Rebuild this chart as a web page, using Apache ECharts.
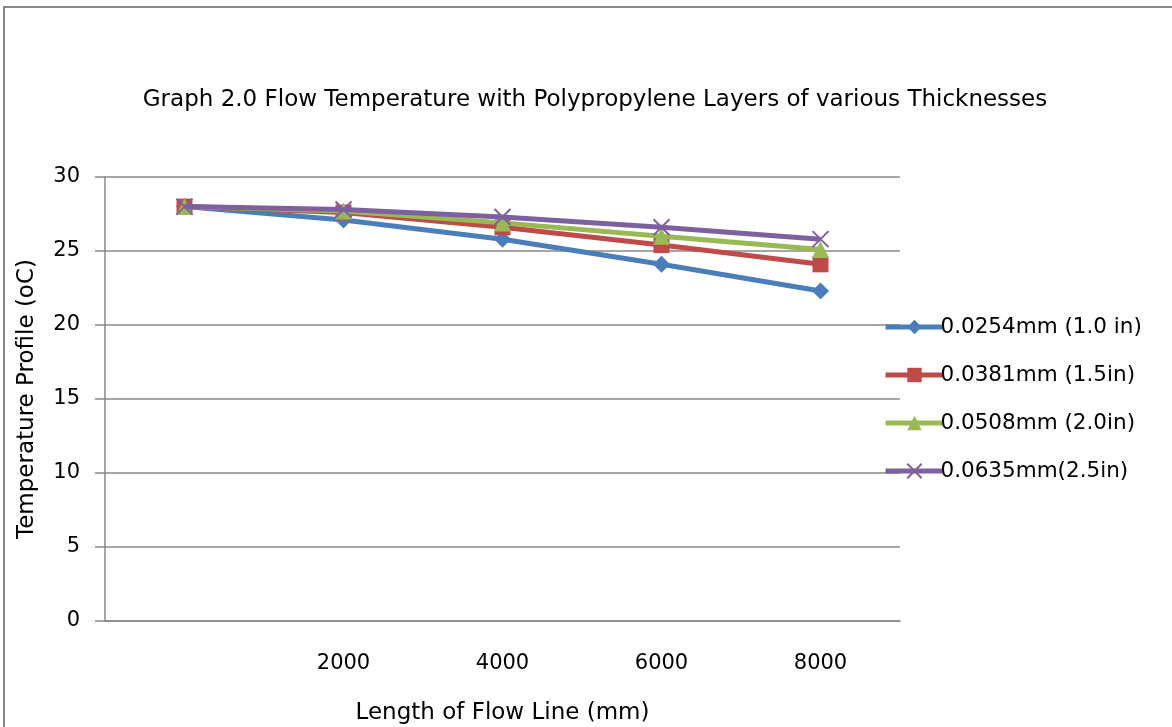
<!DOCTYPE html>
<html>
<head>
<meta charset="utf-8">
<script src="https://cdn.jsdelivr.net/npm/echarts@6/dist/echarts.min.js"></script>
<style>
  html, body { margin: 0; padding: 0; background: #fff; }
  #chart { width: 1172px; height: 727px; }
</style>
</head>
<body>
<div id="chart"></div>
<script>
// x categories (first one has no label in the picture)
var lengths = ['', '2000', '4000', '6000', '8000'];
var yTicks = [0, 5, 10, 15, 20, 25, 30];

var t0254 = [28.0, 27.1, 25.8, 24.1, 22.3];
var t0381 = [28.0, 27.6, 26.6, 25.4, 24.1];
var t0508 = [28.0, 27.7, 26.9, 26.0, 25.1];
var t0635 = [28.0, 27.8, 27.3, 26.6, 25.8];

var names = ['0.0254mm (1.0 in)', '0.0381mm (1.5in)', '0.0508mm (2.0in)', '0.0635mm(2.5in)'];
var colors = ['#4a7ebb', '#be4b48', '#98b954', '#7d60a0'];
var symbols = ['diamond', 'rect', 'triangle', 'path://M0,0 L10,10 M10,0 L0,10'];

var font = '"DejaVu Sans", sans-serif';
var chart = echarts.init(document.getElementById('chart'));

function makeSeries(i, data) {
  var isX = i === 3;
  return {
    name: names[i],
    type: 'line',
    data: data,
    symbol: symbols[i],
    symbolSize: isX ? 16 : (i === 1 ? 16 : 17),
    showAllSymbol: true,
    lineStyle: { color: colors[i], width: 5 },
    itemStyle: isX
      ? { color: 'none', borderColor: colors[i], borderWidth: 2 }
      : { color: colors[i], borderColor: colors[i], borderWidth: 0 },
    emphasis: { disabled: true },
    z: 2 + i
  };
}

chart.setOption({
  animation: false,
  backgroundColor: '#fff',
  textStyle: { fontFamily: font },
  title: {
    text: 'Graph 2.0 Flow Temperature with Polypropylene Layers of various Thicknesses',
    left: 590, top: 84, textAlign: 'center',
    textStyle: { fontFamily: font, fontSize: 23, fontWeight: 'normal', color: '#000' }
  },
  legend: {
    orient: 'vertical',
    left: 878, top: 311,
    itemWidth: 58, itemHeight: 18, itemGap: 26,
    lineStyle: { width: 5 },
    textStyle: { fontFamily: font, fontSize: 21.5, color: '#000', padding: [0, 0, 0, -8] },
    data: names
  },
  grid: { left: 105, right: 272, top: 177, bottom: 106, outerBoundsMode: 'none', containLabel: false },
  xAxis: {
    type: 'category',
    data: lengths,
    boundaryGap: true,
    name: 'Length of Flow Line (mm)',
    nameLocation: 'middle',
    nameGap: 81,
    nameTextStyle: { fontFamily: font, fontSize: 23, color: '#000' },
    axisLine: { lineStyle: { color: '#888', width: 1.5 } },
    axisTick: { show: false },
    axisLabel: { fontFamily: font, fontSize: 21, color: '#000', margin: 32 }
  },
  yAxis: {
    type: 'value',
    min: yTicks[0], max: yTicks[yTicks.length - 1], interval: 5,
    name: 'Temperature Profile (oC)',
    nameLocation: 'middle',
    nameGap: 66,
    nameTextStyle: { fontFamily: font, fontSize: 23, color: '#000' },
    axisLine: { show: true, lineStyle: { color: '#888', width: 1.5 } },
    axisTick: { show: true, length: 10, lineStyle: { color: '#888', width: 1.5 } },
    axisLabel: { fontFamily: font, fontSize: 21, color: '#000', margin: 25 },
    splitLine: { lineStyle: { color: '#888', width: 1.5 } }
  },
  graphic: [{
    type: 'rect',
    shape: { x: 4, y: 7, width: 1200, height: 760 },
    style: { fill: 'none', stroke: '#888', lineWidth: 2 },
    silent: true
  }],
  series: [
    makeSeries(0, t0254),
    makeSeries(1, t0381),
    makeSeries(2, t0508),
    makeSeries(3, t0635)
  ]
});
</script>
</body>
</html>
